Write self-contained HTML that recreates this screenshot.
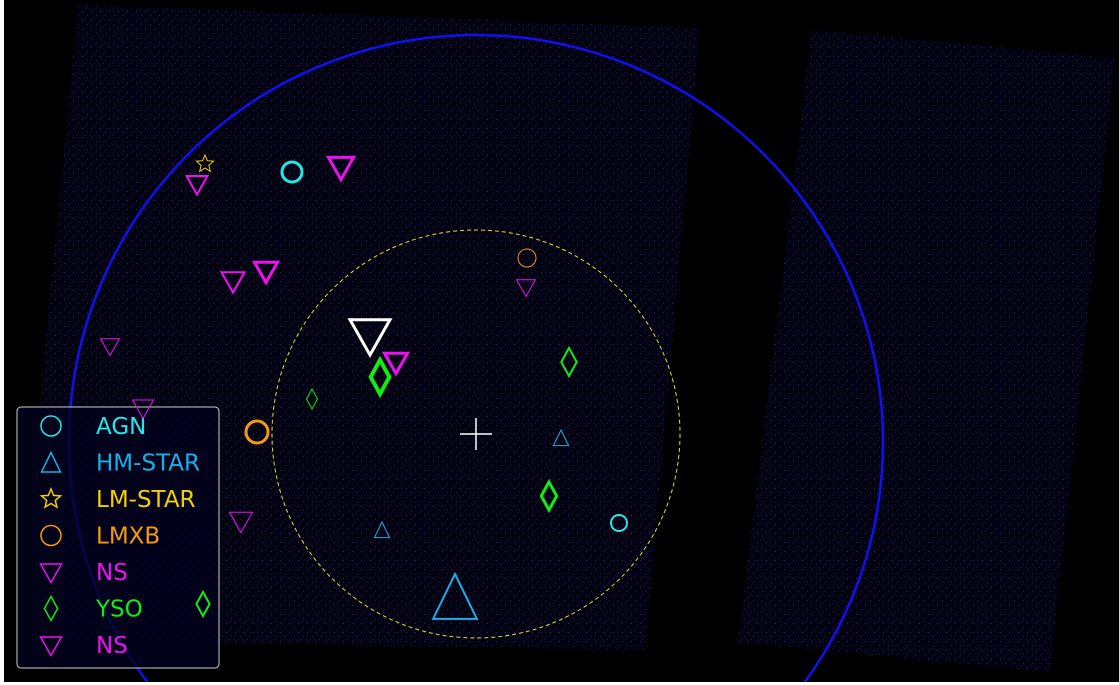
<!DOCTYPE html>
<html><head><meta charset="utf-8"><style>
html,body{margin:0;padding:0;background:#000;overflow:hidden;width:1119px;height:685px;}
svg{display:block;overflow:hidden;}
text{font-family:"DejaVu Sans","Liberation Sans",sans-serif;}
</style></head><body>
<svg id="chart" width="1119" height="685" viewBox="0 0 1119 685" xmlns="http://www.w3.org/2000/svg">
<defs>
<pattern id="noise" width="9" height="9" patternUnits="userSpaceOnUse">
<rect width="9" height="9" fill="#020210"/>
<rect x="1" y="2" width="1" height="1" fill="#2a22a0"/>
<rect x="6" y="6" width="1" height="1" fill="#1e1880"/>
<rect x="4" y="0" width="1" height="1" fill="#141060"/>
</pattern>
<clipPath id="frame"><rect x="0" y="0" width="1119" height="682"/></clipPath>
</defs>
<rect x="0" y="0" width="1119" height="685" fill="#000"/>
<polygon points="78,5 700,28 645,650 60,640 40,400" fill="url(#noise)"/>
<polygon points="812,30 1115,58 1050,672 738,642" fill="url(#noise)"/>
<g id="rings" clip-path="url(#frame)"></g>
<g id="legend"></g>
<g id="markers"></g>
<rect x="0" y="0" width="4" height="685" fill="#fff"/>
<rect x="0" y="682" width="1119" height="3" fill="#fff"/>
</svg>
<script>
const ns="http://www.w3.org/2000/svg";
// marker data: class, x, y, size
const srcClass=["NS","NS","NS","NS","NS","NS","NS","NS","NS","NSW","AGN","AGN","LMXB","LMXB","HM-STAR","HM-STAR","HM-STAR","LM-STAR","YSO","YSO","YSO","YSO","YSO"];
const srcX=[197,341,233,266,526,110,143,396,241,370,292,619,527,257,561,382,455,205,380,569,312,549,203];
const srcY=[184,167,281,271,287,346,408,362,521,335,172,523,258,432,438,530,597,164,377,362,399,496,604];
const srcSize=[10,12,11,11,9,9,10,11,11,19,10,8,9,11,8,8,23,9,17,14,10,14,12];
const srcWidth=[2,3,2,3,1,1,1,3,1,3,3,2,1,3,1,1,2,1,4,2,1,3,2];
const legendLabels=["AGN","HM-STAR","LM-STAR","LMXB","NS","YSO","NS"];
const legendKinds=["AGN","HM-STAR","LM-STAR","LMXB","NS","YSO","NS"];
const colors={"AGN":"#22e8e8","HM-STAR":"#18b0e8","LM-STAR":"#f5d000","LMXB":"#f59a10","NS":"#ee10ee","NSW":"#ffffff","YSO":"#10ee10"};

function mk(tag,attrs,parent){const e=document.createElementNS(ns,tag);for(const k in attrs)e.setAttribute(k,attrs[k]);parent.appendChild(e);return e;}
function shape(kind,x,y,s,w,parent){
  const c=colors[kind];let e;
  if(kind==="AGN"||kind==="LMXB"){e=mk("circle",{cx:x,cy:y,r:s,fill:"none",stroke:c,"stroke-width":w},parent);}
  else if(kind==="HM-STAR"){e=mk("polygon",{points:`${x},${y-s} ${x+s*0.95},${y+s*0.95} ${x-s*0.95},${y+s*0.95}`,fill:"none",stroke:c,"stroke-width":w},parent);}
  else if(kind==="NS"||kind==="NSW"){e=mk("polygon",{points:`${x-s*1.05},${y-s*0.8} ${x+s*1.05},${y-s*0.8} ${x},${y+s*1.05}`,fill:"none",stroke:c,"stroke-width":w},parent);}
  else if(kind==="YSO"){e=mk("polygon",{points:`${x},${y-s} ${x+s*0.55},${y} ${x},${y+s} ${x-s*0.55},${y}`,fill:"none",stroke:c,"stroke-width":w},parent);}
  else {let p=[];for(let i=0;i<10;i++){const r=i%2?s*0.45:s;const a=-Math.PI/2+i*Math.PI/5;p.push((x+r*Math.cos(a)).toFixed(1)+","+(y+r*Math.sin(a)).toFixed(1));}
    e=mk("polygon",{points:p.join(" "),fill:"none",stroke:c,"stroke-width":w},parent);}
  return e;
}
const rings=document.getElementById("rings");
let r1=mk("circle",{cx:476,cy:442,r:407,fill:"none",stroke:"#1010f0","stroke-width":2.5},rings);


let r2=mk("circle",{cx:476,cy:434,r:204,fill:"none",stroke:"#e8e020","stroke-width":1,"stroke-dasharray":"4,3"},rings);


let cr=mk("path",{d:"M460,434 H492 M476,418 V450",stroke:"#fff","stroke-width":1.5},rings);



const lg=document.getElementById("legend");
const box=mk("rect",{x:17,y:407,width:202,height:261,rx:4,fill:"rgba(2,2,30,0.8)",stroke:"#cccccc","stroke-width":1},lg);


for(let i=0;i<legendLabels.length;i++){
  const y=426+i*36.5;const k=legendKinds[i];
  const m=shape(k,51,y,k==="YSO"?12:10,1.5,lg);
  
  
  const t=mk("text",{x:96,y:y+8,fill:colors[k],"font-size":23},lg);
  t.textContent=legendLabels[i];
  
  
}
const mg=document.getElementById("markers");
for(let i=0;i<srcX.length;i++){
  const e=shape(srcClass[i],srcX[i],srcY[i],srcSize[i],srcWidth[i],mg);
  
  
}
</script>
</body></html>
